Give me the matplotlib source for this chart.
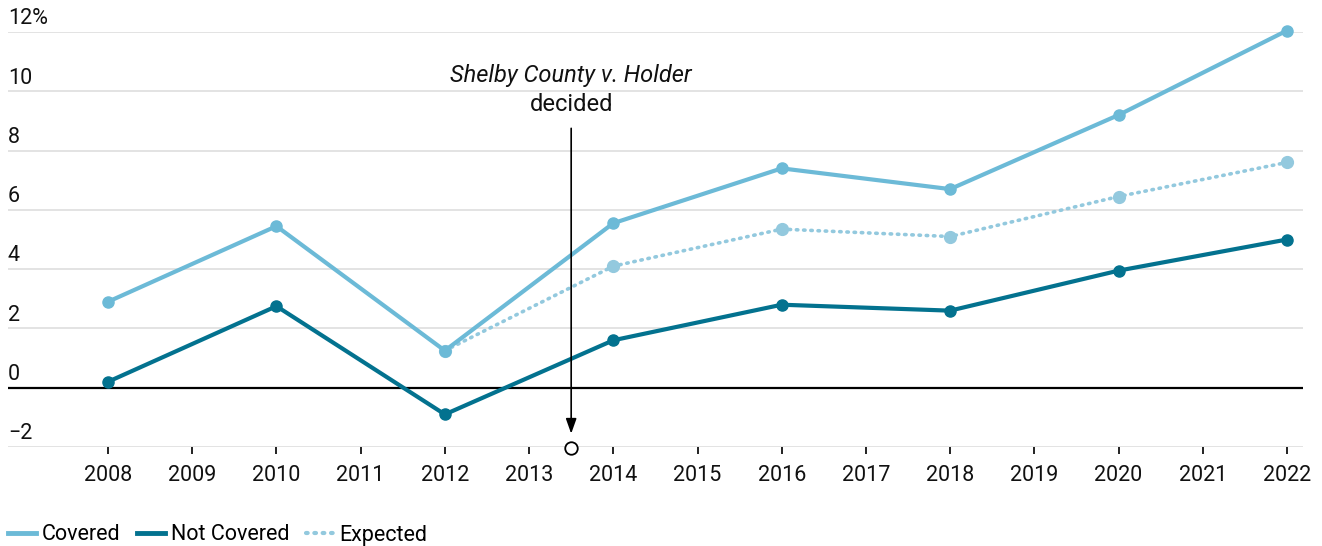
import matplotlib.pyplot as plt

years = [2008, 2010, 2012, 2014, 2016, 2018, 2020, 2022]
covered = [2.9, 5.45, 1.25, 5.55, 7.4, 6.7, 9.2, 12.05]
not_covered = [0.2, 2.75, -0.9, 1.6, 2.8, 2.6, 3.95, 5.0]
expected_years = [2012, 2014, 2016, 2018, 2020, 2022]
expected = [1.25, 4.1, 5.35, 5.1, 6.45, 7.6]
y_ticks = [-2, 0, 2, 4, 6, 8, 10, 12]
y_labels = ["\u22122", "0", "2", "4", "6", "8", "10", "12%"]
x_ticks = list(range(2008, 2023))
event_x = 2013.5

plt.rcParams['font.family'] = ['Roboto', 'DejaVu Sans']

c_cov = "#6cbad7"
c_not = "#03728f"
c_exp = "#93c9de"
fs = 15.5

fig = plt.figure(figsize=(13.22, 5.46), dpi=100)
ax = fig.add_axes([8 / 1322, 99 / 546, 1295 / 1322, 415 / 546])
ax.set_xlim(2008 - 100 / 84.21, 2022 + 16 / 84.21)
ax.set_ylim(-2, 12)

# gridlines and y labels sitting above them
for v, lab in zip(y_ticks, y_labels):
    if v == 0:
        ax.axhline(v, color="black", lw=1.6, zorder=2)
    else:
        ax.axhline(v, color="#e3e3e3", lw=1.4, zorder=1)
    ax.annotate(lab, (0, v), xycoords=("axes fraction", "data"),
                xytext=(0, 2), textcoords="offset points",
                ha="left", va="bottom", fontsize=fs, color="#111111")

ax.plot(expected_years, expected, color=c_exp, lw=2.6, ls=(0, (0.4, 1.6)),
        dash_capstyle="round", marker="o", ms=8.5, zorder=3, clip_on=False)
ax.plot(years, covered, color=c_cov, lw=3, marker="o", ms=8, zorder=4,
        clip_on=False)
ax.plot(years, not_covered, color=c_not, lw=3, marker="o", ms=8, zorder=4,
        clip_on=False)

# annotation
ax.annotate("", xy=(event_x, -1.55), xytext=(event_x, 8.75),
            arrowprops=dict(arrowstyle="-|>,head_length=0.9,head_width=0.32",
                            color="black", lw=1.2, shrinkA=0, shrinkB=0),
            zorder=5)
ax.plot([event_x], [-2.02], marker="o", ms=9, mfc="white", mec="black",
        mew=1.3, zorder=6, clip_on=False)
ax.text(event_x, 10.53, "Shelby County v. Holder", ha="center", va="center",
        fontsize=17, style="italic", color="#111111")
ax.text(event_x, 9.55, "decided", ha="center", va="center", fontsize=17,
        color="#111111")

ax.set_xticks(x_ticks)
ax.set_xticklabels([str(y) for y in x_ticks], fontsize=fs, color="#111111")
ax.tick_params(axis="x", length=5, width=1.4, color="#222222", pad=8)
ax.set_yticks([])
for s in ax.spines.values():
    s.set_visible(False)

handles = [
    plt.Line2D([], [], color=c_cov, lw=3.5),
    plt.Line2D([], [], color=c_not, lw=3.5),
    plt.Line2D([], [], color=c_exp, lw=3, ls=(0, (0.4, 1.6)),
               dash_capstyle="round"),
]
fig.legend(handles, ["Covered", "Not Covered", "Expected"], loc="center left",
           bbox_to_anchor=(8 / 1322, 11 / 546), ncol=3, frameon=False,
           fontsize=fs, handlelength=1.3, handletextpad=0.25,
           columnspacing=0.8, borderpad=0, borderaxespad=0)

fig.savefig("out.png", dpi=100)
